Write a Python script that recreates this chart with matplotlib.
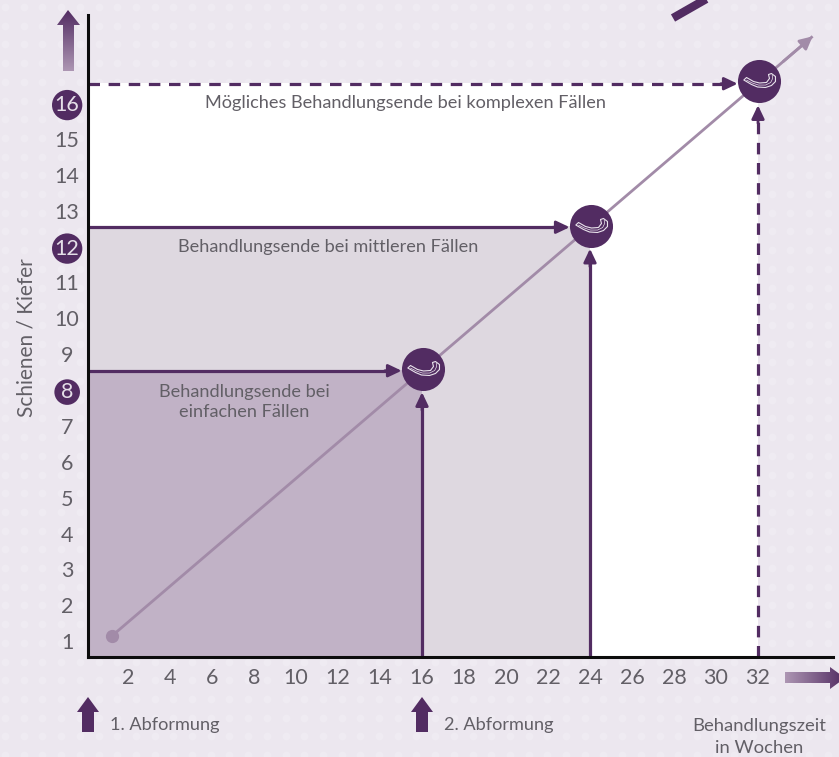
import numpy as np
import matplotlib
matplotlib.use("Agg")
import matplotlib.pyplot as plt
from matplotlib.path import Path
from matplotlib.patches import Polygon

# data
week_ticks = list(range(2, 33, 2))
splint_ticks = list(range(1, 17))
highlight_splints = [8, 12, 16]
end_weeks = [16, 24, 32]
end_splints = [8, 12, 16]
badge_splints = [8.02, 12.02, 16.06]
region_colors = ["#ffffff", "#ded8e0", "#c1b2c6"]
trend_weeks = [1.24, 34.6]
trend_splints = [0.59, 17.3]
impression_labels = ["1. Abformung", "2. Abformung"]

PURPLE = "#522c62"
TREND = "#a28ba8"
BG = "#ece7ef"
TEXT = "#625f66"

plt.rcParams["font.family"] = ["Lato", "DejaVu Sans"]

W, H = 839, 757
fig = plt.figure(figsize=(W / 100, H / 100), dpi=100, facecolor=BG)

# background layer and overlay in pixel coordinates
back = fig.add_axes([0, 0, 1, 1], zorder=0)
back.set_xlim(0, W)
back.set_ylim(H, 0)
back.axis("off")
gx, gy = np.meshgrid(np.arange(5, W, 18.7), np.arange(7, H, 18.7))
back.scatter(gx.ravel(), gy.ravel(), s=32, color="#efebf2", linewidths=0)

# main axes, week 0 at px 86, splint 0 at px 657
ax = fig.add_axes([88 / W, 1 - 657 / H, (833 - 88) / W, (657 - 15) / H], zorder=1)
ax.patch.set_alpha(0)
ax.set_xlim(2 / 21, (833 - 86) / 21)
ax.set_ylim(0, (657 - 15) / 35.875)

x0 = ax.get_xlim()[0]
for wk, sp, col in zip(end_weeks[::-1], end_splints[::-1], region_colors):
    ax.fill_between([x0, wk], 0, sp, color=col, linewidth=0, zorder=1)

ax.plot(trend_weeks, trend_splints, color=TREND, lw=2, zorder=2, clip_on=False,
        solid_capstyle="butt")
ax.plot(trend_weeks[0], trend_splints[0], "o", ms=8.5, color=TREND, zorder=2)
ax.annotate("", xy=(trend_weeks[1], trend_splints[1]), xytext=(33.2, 16.6),
            arrowprops=dict(arrowstyle="-|>,head_length=0.75,head_width=0.38",
                            color=TREND, lw=2, shrinkA=0, shrinkB=0),
            annotation_clip=False, zorder=2)

# horizontal and vertical guides with arrow heads
heads = dict(arrowstyle="-|>,head_length=0.8,head_width=0.38", color=PURPLE, lw=2,
             shrinkA=0, shrinkB=0)
for wk, sp in zip(end_weeks, end_splints):
    style = "--" if sp == 16 else "-"
    tip_x = wk - 0.97
    tip_y = sp - 0.62
    ax.plot([x0, tip_x - 0.5], [sp - 0.02, sp - 0.02], ls=style, color=PURPLE, lw=2.3,
            zorder=3, dashes=(3.6, 2.7) if sp == 16 else (None, None))
    ax.plot([wk, wk], [0, tip_y - 0.3], ls=style, color=PURPLE, lw=2.3,
            zorder=3, dashes=(3.6, 2.7) if sp == 16 else (None, None))
    ax.annotate("", xy=(tip_x, sp - 0.02), xytext=(tip_x - 0.8, sp - 0.02), arrowprops=heads, zorder=4)
    ax.annotate("", xy=(wk, tip_y), xytext=(wk, tip_y - 0.5), arrowprops=heads, zorder=4)

# aligner badges
aligner = Path([(-15.7, 1.5), (-8, -3), (-2, -5.5), (6, -6), (12, -4), (16, 0), (16, 5), (12, 8),
                (9, 7), (10, 3), (7, -1), (0, -1.5), (-6, 0), (-13, 4), (-15.7, 1.5)], closed=True)
mid = Path([(-13, 1.5), (-7, -1.5), (-1, -3.5), (6, -3.5), (11, -1), (13, 3), (12.5, 6.5)])
badge_x = [w + 0.05 for w in end_weeks]
ax.plot(badge_x, badge_splints, "o", ms=31, color=PURPLE, mew=0, zorder=5, clip_on=False)
ax.plot(badge_x, badge_splints, ls="", marker=aligner, ms=23, mfc="none", mec="#e9e3ec", mew=0.8,
        zorder=6, clip_on=False)
ax.plot(badge_x, badge_splints, ls="", marker=mid, ms=19, mfc="none", mec="#e9e3ec", mew=0.5,
        zorder=6, clip_on=False)

# ticks
ax.set_xticks(week_ticks)
ax.set_yticks([s - 0.56 for s in splint_ticks])
ax.set_yticklabels(splint_ticks)
ax.tick_params(axis="both", length=0, labelsize=15.5, labelcolor=TEXT)
ax.tick_params(axis="x", pad=8)
ax.tick_params(axis="y", pad=15)
for lab, sp in zip(ax.get_yticklabels(), splint_ticks):
    lab.set_ha("center")
    if sp in highlight_splints:
        lab.set_color("#e5dfe8")
        lab.set_bbox(dict(boxstyle="circle,pad=0.13", fc=PURPLE, ec="none"))

for side in ["top", "right"]:
    ax.spines[side].set_visible(False)
for side in ["left", "bottom"]:
    ax.spines[side].set_linewidth(2.2)
    ax.spines[side].set_color("#0c0c0c")
    ax.spines[side].set_zorder(7)

ax.text(15.2, 15.44, "Mögliches Behandlungsende bei komplexen Fällen", ha="center", va="center",
        fontsize=13.1, color=TEXT, zorder=4)
ax.text(11.52, 11.42, "Behandlungsende bei mittleren Fällen", ha="center", va="center",
        fontsize=13.1, color=TEXT, zorder=4)
ax.text(7.52, 7.1, "Behandlungsende bei\neinfachen Fällen", ha="center", va="center",
        fontsize=13.1, color=TEXT, zorder=4, linespacing=1.3)

# overlay decorations in pixels
top = fig.add_axes([0, 0, 1, 1], zorder=2)
top.set_xlim(0, W)
top.set_ylim(H, 0)
top.axis("off")


def gradient_arrow(poly, extent, vertical):
    ramp = np.linspace(0, 1, 128)
    c0 = np.array(matplotlib.colors.to_rgb(PURPLE))
    c1 = np.array(matplotlib.colors.to_rgb("#ad96b3"))
    img = c0 + (c1 - c0) * ramp[:, None]
    img = img[:, None, :] if vertical else img[None, :, :][:, ::-1, :]
    im = top.imshow(img, extent=extent, aspect="auto", origin="upper", interpolation="bilinear")
    clip = Polygon(poly, transform=top.transData)
    im.set_clip_path(clip)


gradient_arrow([(68, 10), (80, 25), (74, 25), (74, 71), (63, 71), (63, 25), (57, 25)],
               (57, 80, 71, 10), True)
gradient_arrow([(785, 672), (830, 672), (830, 667), (845, 678), (830, 689), (830, 683), (785, 683)],
               (785, 845, 689, 667), False)
top.set_xlim(0, W)
top.set_ylim(H, 0)

# impression arrows below the axis
for px, lab in zip([88, 422], impression_labels):
    top.add_patch(Polygon([(px, 697), (px + 11, 712), (px + 6, 712), (px + 6, 732),
                           (px - 6, 732), (px - 6, 712), (px - 11, 712)],
                          fc=PURPLE, ec="none"))
    top.text(px + 22, 725, lab, fontsize=13.1, color=TEXT, va="center", ha="left")

top.text(759, 726, "Behandlungszeit", fontsize=13.3, color=TEXT, ha="center", va="center")
top.text(759, 748, "in Wochen", fontsize=13.3, color=TEXT, ha="center", va="center")
top.text(27, 338, "Schienen / Kiefer", fontsize=15, color=TEXT, rotation=90, ha="center", va="center")
top.plot([673, 708], [18, -2], color=PURPLE, lw=6, solid_capstyle="butt")

fig.savefig("out.png", dpi=100, facecolor=BG)
